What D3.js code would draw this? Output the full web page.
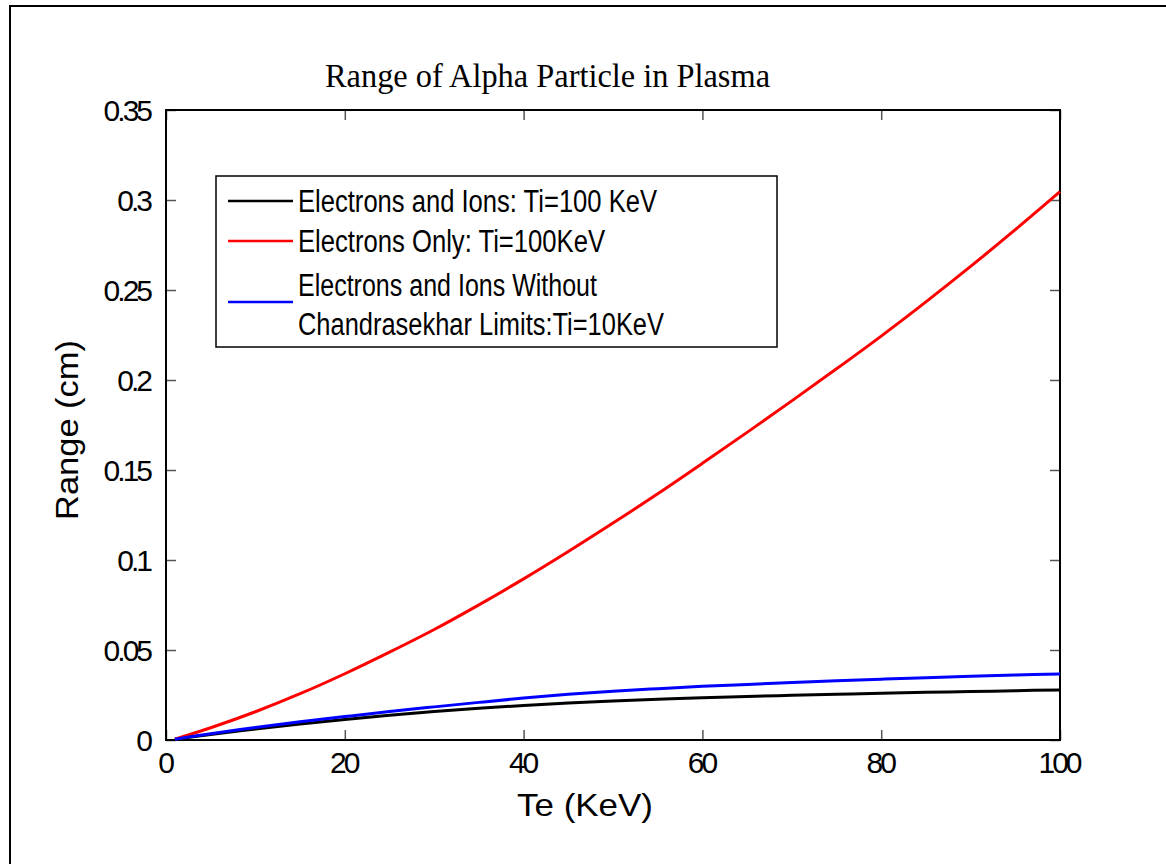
<!DOCTYPE html>
<html><head><meta charset="utf-8">
<script src="https://cdn.jsdelivr.net/npm/d3@7"></script>
<style>
html,body{margin:0;padding:0;background:#fff;}
svg{display:block;}
text{font-family:"Liberation Sans",Arial,sans-serif;fill:#000;}
</style></head>
<body>
<svg id="chart" width="1166" height="864"></svg>
<script>
const te = [1,5,10,15,20,25,30,35,40,45,50,55,60,65,70,75,80,85,90,95,100];
const electronsIons = [0.0004,0.0031,0.0061,0.0089,0.0114,0.0137,0.0158,0.0176,0.0192,0.0205,0.0216,0.0226,0.0235,0.0242,0.0248,0.0254,0.0260,0.0265,0.0269,0.0274,0.0278];
const electronsOnly = [0.0005,0.0068,0.0157,0.0257,0.0368,0.0488,0.0614,0.0751,0.0895,0.1047,0.1205,0.1368,0.1537,0.1709,0.1884,0.2062,0.2244,0.2434,0.2631,0.2835,0.3046];
const withoutLimits = [0.0004,0.0035,0.0070,0.0101,0.0130,0.0158,0.0184,0.0209,0.0233,0.0254,0.0271,0.0285,0.0298,0.0309,0.0319,0.0329,0.0338,0.0346,0.0354,0.0361,0.0367];
const xTicks = [0,20,40,60,80,100];
const yTicks = [0,0.05,0.1,0.15,0.2,0.25,0.3,0.35];
const yTickLabels = ["0","0.05","0.1","0.15","0.2","0.25","0.3","0.35"];
const seriesNames = ["Electrons and Ions: Ti=100 KeV","Electrons Only: Ti=100KeV",["Electrons and Ions Without","Chandrasekhar Limits:Ti=10KeV"]];
const seriesColors = ["#000000","#ff0000","#0000ff"];
const titleText = "Range of Alpha Particle in Plasma";
const xLabel = "Te (KeV)";
const yLabel = "Range (cm)";

const svg = d3.select("#chart");
const L = 166, R = 1060, T = 110, B = 740;
const x = d3.scaleLinear().domain([0,100]).range([L,R]);
const y = d3.scaleLinear().domain([0,0.35]).range([B,T]);

// outer frame
svg.append("rect").attr("x",10).attr("y",6).attr("width",1170).attr("height",880)
  .attr("fill","none").attr("stroke","#000").attr("stroke-width",2);

function styleAxis(g){
  g.select(".domain").remove();
  g.selectAll(".tick line").attr("stroke","#555").attr("stroke-width",1.5);
  g.selectAll("text").style("font-size","30px").style("letter-spacing","-3px").attr("fill","#000");
}
const gx = svg.append("g").attr("transform",`translate(0,${B})`)
  .call(d3.axisBottom(x).tickValues(xTicks).tickSizeInner(-10).tickSizeOuter(0).tickPadding(24).tickFormat(d3.format("d")));
styleAxis(gx);
gx.selectAll("text").attr("dy","0.3em").attr("dx","-1.5");
const gxt = svg.append("g").attr("transform",`translate(0,${T})`)
  .call(d3.axisTop(x).tickValues(xTicks).tickSizeInner(-10).tickSizeOuter(0).tickFormat(""));
styleAxis(gxt);
const gy = svg.append("g").attr("transform",`translate(${L},0)`)
  .call(d3.axisLeft(y).tickValues(yTicks).tickSizeInner(-10).tickSizeOuter(0).tickPadding(16).tickFormat((d,i)=>yTickLabels[i]));
styleAxis(gy);
gy.selectAll("text").attr("dy","0.36em");
const gyr = svg.append("g").attr("transform",`translate(${R},0)`)
  .call(d3.axisRight(y).tickValues(yTicks).tickSizeInner(-10).tickSizeOuter(0).tickFormat(""));
styleAxis(gyr);

// plot box
svg.append("rect").attr("x",L).attr("y",T).attr("width",R-L).attr("height",B-T)
  .attr("fill","none").attr("stroke","#000").attr("stroke-width",2);

// lines
const line = d3.line().x(d=>x(d[0])).y(d=>y(d[1])).curve(d3.curveCatmullRom);
const allSeries = [electronsIons, electronsOnly, withoutLimits];
allSeries.forEach((s,i)=>{
  svg.append("path").datum(te.map((t,j)=>[t,s[j]]))
    .attr("d",line).attr("fill","none").attr("stroke",seriesColors[i]).attr("stroke-width",3);
});

// title
svg.append("text").attr("x",325).attr("y",87).text(titleText)
  .style("font-family","'Liberation Serif','Times New Roman',serif").style("font-size","34px")
  .attr("textLength",445).attr("lengthAdjust","spacingAndGlyphs");

// axis labels
svg.append("text").attr("x",517).attr("y",816).text(xLabel)
  .style("font-size","32px").attr("textLength",136).attr("lengthAdjust","spacingAndGlyphs");
svg.append("text").attr("transform","translate(78,520) rotate(-90)").text(yLabel)
  .style("font-size","32px").attr("textLength",180).attr("lengthAdjust","spacingAndGlyphs");

// legend
const lg = svg.append("g");
lg.append("rect").attr("x",216).attr("y",176).attr("width",561).attr("height",171)
  .attr("fill","#fff").attr("stroke","#000").attr("stroke-width",1.5);
const sampleY = [201,241,302];
const textRows = [[{t:seriesNames[0],y:201,w:359}],[{t:seriesNames[1],y:241,w:307}],
  [{t:seriesNames[2][0],y:285,w:299},{t:seriesNames[2][1],y:324,w:366}]];
seriesColors.forEach((c,i)=>{
  lg.append("line").attr("x1",228).attr("x2",293).attr("y1",sampleY[i]).attr("y2",sampleY[i])
    .attr("stroke",c).attr("stroke-width",2.5);
  textRows[i].forEach(r=>{
    lg.append("text").attr("x",298).attr("y",r.y).attr("dy","0.36em").text(r.t)
      .style("font-size","31px").attr("textLength",r.w).attr("lengthAdjust","spacingAndGlyphs");
  });
});
</script>
</body></html>
